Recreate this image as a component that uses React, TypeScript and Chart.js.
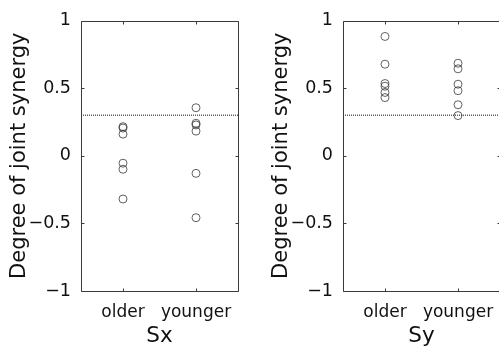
import React, { useEffect, useRef } from "react";
import { Chart, registerables } from "chart.js";

Chart.register(...registerables);

const categories = ["older", "younger"];
const sxOlder = [0.215, 0.205, 0.16, -0.055, -0.1, -0.32];
const sxYounger = [0.355, 0.24, 0.228, 0.182, -0.13, -0.458];
const syOlder = [0.882, 0.677, 0.534, 0.514, 0.468, 0.43];
const syYounger = [0.684, 0.643, 0.529, 0.481, 0.377, 0.297];
const threshold = 0.3;
const yTicks = [-1, -0.5, 0, 0.5, 1];
const yLabel = "Degree of joint synergy";
const xMin = 0.425;
const xMax = 2.575;

const FONT = "'DejaVu Sans', sans-serif";
const TEXT = "#111";
const AXIS = "#3a3a3a";

const boxPlugin = {
  id: "matlabBox",
  afterDraw(chart: any) {
    const { ctx, chartArea: a, scales } = chart;
    ctx.save();
    ctx.strokeStyle = AXIS;
    ctx.lineWidth = 1;
    const L = Math.round(a.left) + 0.5;
    const R = Math.round(a.right) + 0.5;
    const T = Math.round(a.top) + 0.5;
    const B = Math.round(a.bottom) + 0.5;
    ctx.beginPath();
    ctx.rect(L, T, R - L, B - T);
    ctx.stroke();
    const tl = 3;
    ctx.beginPath();
    yTicks.forEach((v) => {
      const y = Math.round(scales.y.getPixelForValue(v)) + 0.5;
      ctx.moveTo(L, y);
      ctx.lineTo(L + tl, y);
      ctx.moveTo(R, y);
      ctx.lineTo(R - tl, y);
    });
    categories.forEach((_, i) => {
      const x = Math.round(scales.x.getPixelForValue(i + 1)) + 0.5;
      ctx.moveTo(x, B);
      ctx.lineTo(x, B - tl);
      ctx.moveTo(x, T);
      ctx.lineTo(x, T + tl);
    });
    ctx.stroke();
    ctx.restore();
  },
};

function Panel({ older, younger, title, left }: { older: number[]; younger: number[]; title: string; left: number }) {
  const ref = useRef<HTMLCanvasElement>(null);
  useEffect(() => {
    if (!ref.current) return;
    const pts = (vals: number[], x: number) => vals.map((v) => ({ x, y: v }));
    const chart = new Chart(ref.current, {
      type: "scatter",
      data: {
        datasets: [
          {
            type: "line",
            data: [
              { x: xMin, y: threshold },
              { x: xMax, y: threshold },
            ],
            borderColor: "#111",
            borderWidth: 1,
            borderDash: [1, 1],
            pointRadius: 0,
            fill: false,
          } as any,
          {
            data: pts(older, 1),
            pointRadius: 4,
            pointStyle: "circle",
            borderColor: "#3a3a3a",
            borderWidth: 0.8,
            backgroundColor: "rgba(0,0,0,0)",
          },
          {
            data: pts(younger, 2),
            pointRadius: 4,
            pointStyle: "circle",
            borderColor: "#3a3a3a",
            borderWidth: 0.8,
            backgroundColor: "rgba(0,0,0,0)",
          },
        ],
      },
      options: {
        responsive: false,
        animation: false,
        events: [],
        layout: { padding: { left: 0, right: 12, top: 15, bottom: 0 } },
        plugins: { legend: { display: false }, tooltip: { enabled: false } },
        scales: {
          x: {
            type: "linear",
            min: xMin,
            max: xMax,
            afterBuildTicks: (axis: any) => {
              axis.ticks = categories.map((_, i) => ({ value: i + 1 }));
            },
            afterFit: (axis: any) => {
              axis.height = 57;
            },
            grid: { display: false, drawTicks: false },
            border: { display: false },
            ticks: {
              autoSkip: false,
              maxRotation: 0,
              padding: 11,
              color: TEXT,
              font: { family: FONT, size: 17 },
              callback: (v: any) => categories[Math.round(v) - 1] ?? "",
            },
            title: {
              display: true,
              text: title,
              color: TEXT,
              font: { family: FONT, size: 21.5, lineHeight: 1 },
              padding: { top: 0, bottom: 1 },
            },
          },
          y: {
            min: -1,
            max: 1,
            afterBuildTicks: (axis: any) => {
              axis.ticks = yTicks.map((v) => ({ value: v }));
            },
            afterFit: (axis: any) => {
              axis.width = 81;
            },
            grid: { display: false, drawTicks: false },
            border: { display: false },
            ticks: {
              padding: 10,
              color: TEXT,
              font: { family: FONT, size: 17.5 },
              callback: (v: any) => String(v).replace("-", "\u2212"),
            },
            title: {
              display: true,
              text: yLabel,
              color: TEXT,
              font: { family: FONT, size: 21, lineHeight: 1 },
              padding: { top: 9.5, bottom: 0 },
            },
          },
        },
      },
      plugins: [boxPlugin],
    } as any);
    return () => chart.destroy();
  }, [older, younger, title]);
  return (
    <canvas
      ref={ref}
      width={250}
      height={348}
      style={{ position: "absolute", left, top: 0, width: 250, height: 348 }}
    />
  );
}

export default function App() {
  return (
    <div
      style={{
        position: "fixed",
        left: 0,
        top: 0,
        width: 499,
        height: 348,
        overflow: "hidden",
        background: "#fff",
      }}
    >
      <Panel older={sxOlder} younger={sxYounger} title="Sx" left={0} />
      <Panel older={syOlder} younger={syYounger} title="Sy" left={262} />
    </div>
  );
}
